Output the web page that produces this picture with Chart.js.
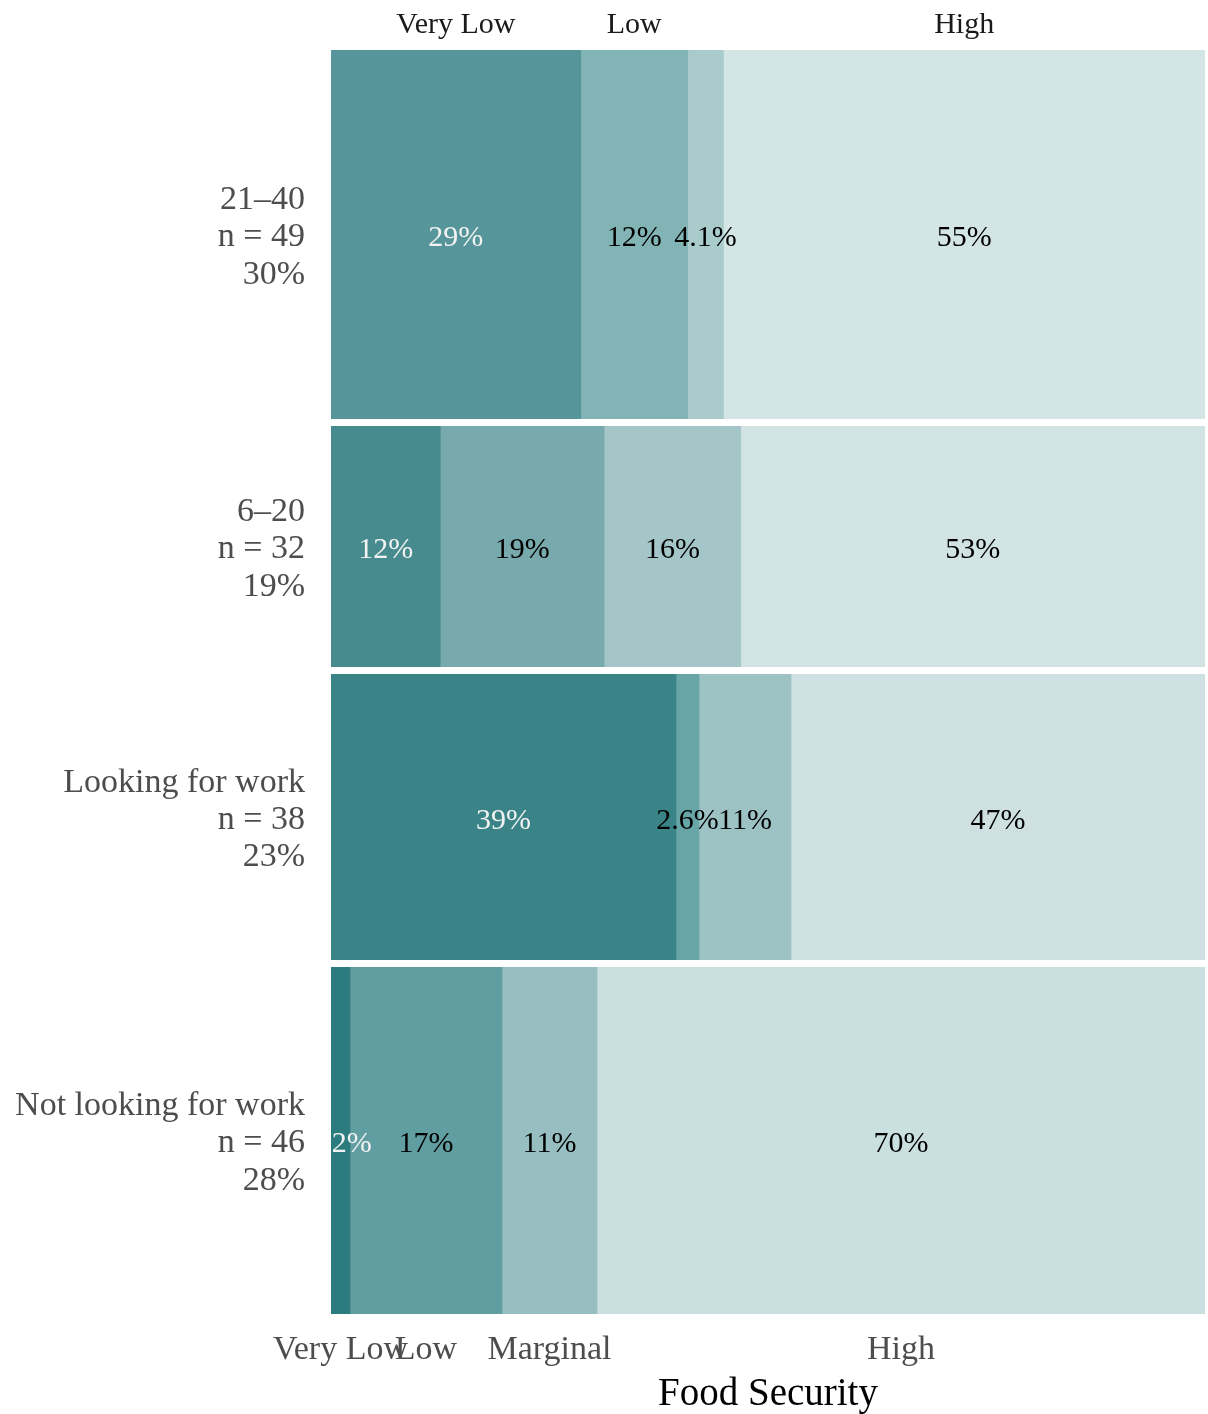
<!DOCTYPE html>
<html>
<head>
<meta charset="utf-8">
<script src="https://cdn.jsdelivr.net/npm/chart.js@4.4.1/dist/chart.umd.min.js"></script>
<style>
  html, body { margin:0; padding:0; background:#ffffff; }
  #wrap { position:relative; width:1208px; height:1414px; overflow:hidden; background:#fff; }
  #wrap canvas { position:absolute; left:0; }
</style>
</head>
<body>
<div id="wrap"></div>
<script>
// ---------- data ----------
const levels = ['Very Low', 'Low', 'Marginal', 'High'];
const groups = ['21–40', '6–20', 'Looking for work', 'Not looking for work'];
const groupN = [49, 32, 38, 46];
const groupShare = ['30%', '19%', '23%', '28%'];
const countVeryLow  = [14, 4, 15, 1];
const countLow      = [6, 6, 1, 8];
const countMarginal = [2, 5, 4, 5];
const countHigh     = [27, 17, 18, 32];
const labelVeryLow  = ['29%', '12%', '39%', '2.2%'];
const labelLow      = ['12%', '19%', '2.6%', '17%'];
const labelMarginal = ['4.1%', '16%', '11%', '11%'];
const labelHigh     = ['55%', '53%', '47%', '70%'];
const topAxisLabels    = ['Very Low', 'Low', '', 'High'];
const bottomAxisLabels = ['Very Low', 'Low', 'Marginal', 'High'];
const axisTitle = 'Food Security';

// ---------- style ----------
const palette = [
  ['#56969A', '#82B3B5', '#AACBCC', '#D4E5E5'],
  ['#478B8E', '#78AAAD', '#A5C6C8', '#D2E3E4'],
  ['#3A8488', '#68A5A7', '#9CC2C4', '#CEE0E2'],
  ['#2C7B7F', '#619EA1', '#97BEC0', '#C9DFE0']
];
const cellTextColors = ['#F2F2F2', '#000000', '#000000', '#000000'];
const FONT = "'Liberation Serif', 'Times New Roman', serif";

const W = 1208, H = 1414;
const plotLeft = 331, plotRight = 1205, plotTop = 50, plotBottom = 1314, gap = 7;

const counts = [countVeryLow, countLow, countMarginal, countHigh];
const cellLabels = [labelVeryLow, labelLow, labelMarginal, labelHigh];

const totalN = groupN.reduce((a, b) => a + b, 0);
const avail = plotBottom - plotTop - gap * (groups.length - 1);

const cellLabelPlugin = {
  id: 'cellLabels',
  afterDatasetsDraw(chart) {
    const ctx = chart.ctx;
    const a = chart.chartArea;
    ctx.save();
    ctx.beginPath();
    ctx.rect(a.left, a.top, a.right - a.left, a.bottom - a.top);
    ctx.clip();
    ctx.font = '30px ' + FONT;
    ctx.textAlign = 'center';
    ctx.textBaseline = 'middle';
    chart.data.datasets.forEach((ds, di) => {
      const meta = chart.getDatasetMeta(di);
      meta.data.forEach((el) => {
        const cx = (el.x + el.base) / 2;
        ctx.fillStyle = ds.labelColor;
        ctx.fillText(ds.cellLabel, cx, el.y + 4);
      });
    });
    ctx.restore();
  }
};

let yCursor = plotTop;
groups.forEach((g, i) => {
  const rowH = avail * groupN[i] / totalN;
  const rowTop = Math.round(yCursor);
  const rowBottom = Math.round(yCursor + rowH);
  yCursor += rowH + gap;
  const isFirst = i === 0, isLast = i === groups.length - 1;
  const canvasTop = isFirst ? 0 : rowTop;
  const canvasBottom = isLast ? H : rowBottom;

  const canvas = document.createElement('canvas');
  canvas.width = W;
  canvas.height = canvasBottom - canvasTop;
  canvas.style.top = canvasTop + 'px';
  document.getElementById('wrap').appendChild(canvas);

  const pct = counts.map(c => c[i] / groupN[i] * 100);
  const centers = [];
  let cum = 0;
  pct.forEach(p => { centers.push(cum + p / 2); cum += p; });

  const datasets = levels.map((lv, li) => ({
    label: lv,
    data: [pct[li]],
    backgroundColor: palette[i][li],
    borderWidth: 0,
    barPercentage: 1,
    categoryPercentage: 1,
    cellLabel: cellLabels[li][i],
    labelColor: cellTextColors[li]
  }));

  const xLabels = isFirst ? topAxisLabels : bottomAxisLabels;
  const showX = isFirst || isLast;

  new Chart(canvas, {
    type: 'bar',
    data: { labels: [g], datasets },
    options: {
      indexAxis: 'y',
      responsive: false,
      animation: false,
      events: [],
      layout: { padding: { left: 0, right: W - plotRight, top: 0, bottom: 0 } },
      plugins: { legend: { display: false }, tooltip: { enabled: false } },
      scales: {
        x: {
          type: 'linear',
          stacked: true,
          min: 0,
          max: 100,
          display: showX,
          position: isFirst ? 'top' : 'bottom',
          grid: { display: false, drawTicks: false },
          border: { display: false },
          afterBuildTicks: (scale) => { scale.ticks = centers.map(v => ({ value: v })); },
          afterFit: (scale) => {
            if (showX) scale.height = isFirst ? plotTop : (H - plotBottom);
            scale.paddingLeft = 0; scale.paddingRight = 0;
          },
          ticks: {
            autoSkip: false,
            maxRotation: 0,
            minRotation: 0,
            padding: isFirst ? 7 : 16,
            color: isFirst ? '#1A1A1A' : '#4D4D4D',
            font: { family: FONT, size: isFirst ? 30 : 34 },
            callback: (v, idx) => xLabels[idx]
          },
          title: {
            display: isLast,
            text: axisTitle,
            color: '#000000',
            font: { family: FONT, size: 39 },
            padding: { top: 0, bottom: -4 }
          }
        },
        y: {
          type: 'category',
          stacked: true,
          grid: { display: false, drawTicks: false },
          border: { display: false },
          afterFit: (scale) => {
            scale.width = plotLeft;
            scale.paddingTop = 0; scale.paddingBottom = 0;
          },
          ticks: {
            padding: 26,
            labelOffset: 3,
            color: '#4D4D4D',
            font: { family: FONT, size: 34, lineHeight: 1.1 },
            callback: () => [groups[i], 'n = ' + groupN[i], groupShare[i]]
          }
        }
      }
    },
    plugins: [cellLabelPlugin]
  });
});
</script>
</body>
</html>
